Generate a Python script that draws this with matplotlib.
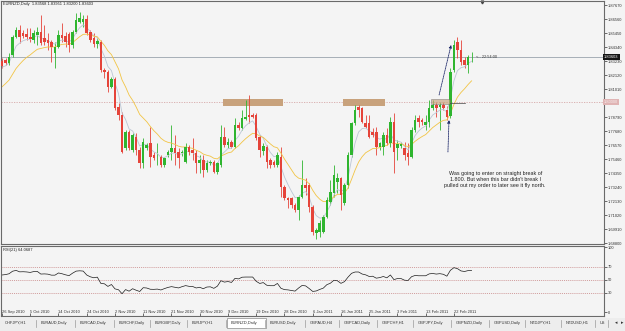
import numpy as np
import matplotlib
matplotlib.use("Agg")
import matplotlib.pyplot as plt
from matplotlib.patches import Rectangle

plt.rcParams['font.family'] = ['Liberation Sans', 'DejaVu Sans']

# EURNZD daily candles
opens = [1.8326, 1.8334, 1.8310, 1.8374, 1.8517, 1.8572, 1.8548, 1.8540, 1.8517, 1.8493,
         1.8532, 1.8556, 1.8509, 1.8493, 1.8477, 1.8390, 1.8437, 1.8532, 1.8525, 1.8540,
         1.8453, 1.8556, 1.8636, 1.8636, 1.8659, 1.8556, 1.8509, 1.8461, 1.8477, 1.8255,
         1.8239, 1.8120, 1.8184, 1.7961, 1.7898, 1.7636, 1.7763, 1.7620, 1.7724, 1.7620,
         1.7517, 1.7636, 1.7676, 1.7581, 1.7565, 1.7565, 1.7502, 1.7581, 1.7605, 1.7636,
         1.7605, 1.7597, 1.7525, 1.7644, 1.7620, 1.7597, 1.7517, 1.7541, 1.7462, 1.7517,
         1.7525, 1.7446, 1.7502, 1.7724, 1.7660, 1.7684, 1.7644, 1.7819, 1.7795, 1.7866,
         1.7898, 1.7898, 1.7898, 1.7724, 1.7613, 1.7644, 1.7541, 1.7525, 1.7502, 1.7565,
         1.7327, 1.7240, 1.7240, 1.7184, 1.7145, 1.7248, 1.7343, 1.7343, 1.7168, 1.6962,
         1.6970, 1.6970, 1.7089, 1.7208, 1.7280, 1.7367, 1.7398, 1.7200, 1.7343, 1.7581,
         1.7835, 1.7961, 1.7954, 1.7835, 1.7835, 1.7763, 1.7763, 1.7644, 1.7644, 1.7739,
         1.7676, 1.7843, 1.7636, 1.7652, 1.7636, 1.7597, 1.7565, 1.7779, 1.7874, 1.7858,
         1.7819, 1.7843, 1.7954, 1.7977, 1.7961, 1.7977, 1.7938, 1.7890, 1.8255, 1.8477,
         1.8413, 1.8334, 1.8295, 1.83568]
highs = [1.8350, 1.8350, 1.8390, 1.8532, 1.8596, 1.8612, 1.8572, 1.8588, 1.8588, 1.8572,
         1.8596, 1.8691, 1.8612, 1.8548, 1.8493, 1.8477, 1.8572, 1.8628, 1.8556, 1.8556,
         1.8572, 1.8707, 1.8715, 1.8691, 1.8691, 1.8572, 1.8548, 1.8509, 1.8493, 1.8271,
         1.8255, 1.8199, 1.8199, 1.7993, 1.7922, 1.7779, 1.7779, 1.7755, 1.7755, 1.7644,
         1.7716, 1.7676, 1.7803, 1.7605, 1.7676, 1.7581, 1.7565, 1.7620, 1.7819, 1.7739,
         1.7636, 1.7620, 1.7676, 1.7660, 1.7716, 1.7620, 1.7581, 1.7581, 1.7541, 1.7541,
         1.7541, 1.7525, 1.7819, 1.7803, 1.7716, 1.7700, 1.7874, 1.7843, 1.7938, 1.8017,
         1.8057, 1.7914, 1.7914, 1.7739, 1.7676, 1.7660, 1.7557, 1.7541, 1.7605, 1.7644,
         1.7343, 1.7248, 1.7248, 1.7200, 1.7264, 1.7541, 1.7398, 1.7359, 1.7184, 1.7002,
         1.7065, 1.7105, 1.7248, 1.7383, 1.7502, 1.7438, 1.7406, 1.7359, 1.7605, 1.7843,
         1.7977, 1.7977, 1.7961, 1.7898, 1.7898, 1.7795, 1.7803, 1.7684, 1.7763, 1.7795,
         1.7882, 1.7914, 1.7700, 1.7684, 1.7684, 1.7676, 1.7803, 1.7898, 1.7898, 1.7874,
         1.7898, 1.8017, 1.8017, 1.8001, 1.8001, 1.8001, 1.7969, 1.8271, 1.8493, 1.8517,
         1.8493, 1.8358, 1.8374, 1.83951]
lows = [1.8271, 1.8295, 1.8295, 1.8358, 1.8509, 1.8469, 1.8509, 1.8493, 1.8477, 1.8469,
        1.8453, 1.8453, 1.8453, 1.8413, 1.8318, 1.8271, 1.8429, 1.8477, 1.8437, 1.8398,
        1.8429, 1.8548, 1.8628, 1.8596, 1.8532, 1.8477, 1.8437, 1.8429, 1.8239, 1.8191,
        1.8080, 1.8112, 1.7938, 1.7858, 1.7597, 1.7620, 1.7620, 1.7605, 1.7581, 1.7478,
        1.7478, 1.7620, 1.7486, 1.7541, 1.7502, 1.7486, 1.7486, 1.7565, 1.7541, 1.7502,
        1.7478, 1.7573, 1.7517, 1.7581, 1.7541, 1.7438, 1.7438, 1.7406, 1.7446, 1.7502,
        1.7438, 1.7430, 1.7486, 1.7644, 1.7636, 1.7636, 1.7636, 1.7779, 1.7779, 1.7858,
        1.7835, 1.7874, 1.7700, 1.7565, 1.7581, 1.7478, 1.7478, 1.7486, 1.7486, 1.7248,
        1.7224, 1.7161, 1.7161, 1.7129, 1.7065, 1.7240, 1.7264, 1.7129, 1.6946, 1.6915,
        1.6931, 1.6962, 1.7081, 1.7184, 1.7248, 1.7280, 1.7145, 1.7184, 1.7319, 1.7565,
        1.7819, 1.7882, 1.7835, 1.7795, 1.7716, 1.7724, 1.7581, 1.7620, 1.7581, 1.7660,
        1.7644, 1.7438, 1.7541, 1.7636, 1.7541, 1.7502, 1.7557, 1.7763, 1.7803, 1.7819,
        1.7779, 1.7803, 1.7938, 1.7882, 1.7779, 1.7938, 1.7858, 1.7874, 1.8239, 1.8350,
        1.8295, 1.8271, 1.8231, 1.83200]
closes = [1.8287, 1.8310, 1.8358, 1.8517, 1.8572, 1.8517, 1.8525, 1.8517, 1.8501, 1.8548,
          1.8556, 1.8469, 1.8477, 1.8469, 1.8437, 1.8437, 1.8532, 1.8509, 1.8477, 1.8453,
          1.8556, 1.8651, 1.8667, 1.8659, 1.8548, 1.8493, 1.8461, 1.8485, 1.8255, 1.8239,
          1.8120, 1.8184, 1.7954, 1.7898, 1.7605, 1.7763, 1.7636, 1.7739, 1.7620, 1.7517,
          1.7684, 1.7660, 1.7565, 1.7557, 1.7568, 1.7502, 1.7557, 1.7605, 1.7636, 1.7597,
          1.7557, 1.7605, 1.7644, 1.7605, 1.7597, 1.7517, 1.7541, 1.7462, 1.7517, 1.7525,
          1.7446, 1.7517, 1.7724, 1.7660, 1.7684, 1.7644, 1.7819, 1.7795, 1.7874, 1.7882,
          1.7882, 1.7882, 1.7716, 1.7620, 1.7652, 1.7525, 1.7502, 1.7502, 1.7581, 1.7327,
          1.7240, 1.7224, 1.7184, 1.7145, 1.7248, 1.7343, 1.7319, 1.7168, 1.6970, 1.6986,
          1.7042, 1.7089, 1.7224, 1.7287, 1.7422, 1.7398, 1.7264, 1.7343, 1.7581, 1.7835,
          1.7938, 1.7938, 1.7843, 1.7803, 1.7724, 1.7739, 1.7644, 1.7676, 1.7739, 1.7676,
          1.7843, 1.7605, 1.7668, 1.7668, 1.7581, 1.7565, 1.7779, 1.7858, 1.7843, 1.7843,
          1.7843, 1.7954, 1.7977, 1.7954, 1.7977, 1.7954, 1.7882, 1.8239, 1.8453, 1.8413,
          1.8318, 1.8295, 1.8358, 1.83603]

date_labels = ["26 Sep 2010", "5 Oct 2010", "14 Oct 2010", "24 Oct 2010", "2 Nov 2010",
               "11 Nov 2010", "21 Nov 2010", "30 Nov 2010", "9 Dec 2010", "19 Dec 2010",
               "28 Dec 2010", "6 Jan 2011", "16 Jan 2011", "25 Jan 2011", "3 Feb 2011",
               "13 Feb 2011", "22 Feb 2011"]
price_ticks = [1.68800, 1.69910, 1.71020, 1.72130, 1.73240, 1.74350, 1.75460, 1.76570,
               1.77680, 1.78790, 1.79900, 1.81010, 1.82120, 1.83230, 1.84340, 1.85450,
               1.86560, 1.87670]
rsi_ticks = [0, 30, 50, 70, 100]
rsi_levels = [30, 50, 70]
level_price = 1.80000
# moving average starting values as seen at the left edge
ma_fast_start, ma_slow_start = 1.8271, 1.8096
rsi_gain_start, rsi_loss_start = 0.0045, 0.0033

tab_names = ["CHFJPY,H1", "EURAUD,Daily", "EURCAD,Daily", "EURCHF,Daily", "EURGBP,Daily",
             "EURJPY,H1", "EURNZD,Daily", "EURUSD,Daily", "GBPAUD,H4", "GBPCAD,Daily",
             "GBPCHF,H1", "GBPJPY,Daily", "GBPNZD,Daily", "GBPUSD,Daily", "NZDJPY,H1",
             "NZDUSD,H1", "US"]
tab_x = [2, 38, 77, 116, 152, 189, 228, 267, 307, 341, 379, 415, 453, 491, 527, 563, 597]

W, H = 625, 331
BG = '#F4F4F4'


def px_box(x0, y0, x1, y1):
    return [x0 / W, 1 - y1 / H, (x1 - x0) / W, (y1 - y0) / H]


def ema(vals, n, start):
    out, prev = [], start
    for v in vals:
        prev = prev + 2.0 / (n + 1) * (v - prev)
        out.append(prev)
    return np.array(out)


o = np.array(opens); h = np.array(highs); l = np.array(lows); c = np.array(closes)
idx = np.arange(len(c))
up = c >= o
cols = np.where(up, '#2FB52F', '#E5443A')

# RSI(21), Wilder smoothing
ag, al = rsi_gain_start, rsi_loss_start
rsi = [100 - 100 / (1 + ag / al)]
for d in np.diff(c):
    ag = (ag * 20 + max(d, 0)) / 21
    al = (al * 20 + max(-d, 0)) / 21
    rsi.append(100 - 100 / (1 + ag / al))
rsi = np.array(rsi)

fig = plt.figure(figsize=(6.25, 3.31), dpi=100, facecolor=BG)
xl = (-0.28, 170.5)

# ---- main price window
ax = fig.add_axes(px_box(1, 1, 604, 244), facecolor=BG)
ax.set_xlim(*xl)
ax.set_ylim(1.6875, 1.8802)
ax.set_xticks([])
ax.yaxis.tick_right()
ax.set_yticks(price_ticks)
# the label under the 1.80000 marker is hidden in the terminal
ax.set_yticklabels(["" if abs(v - level_price) < 0.003 else f"{v:.5f}" for v in price_ticks])
ax.tick_params(axis='y', length=2, width=0.5, pad=1, labelsize=2.9, colors='#333333')
for s in ax.spines.values():
    s.set_color('#6A6A6A'); s.set_linewidth(0.8)

ax.axhline(level_price, color='#D6A8A8', lw=0.6, ls=(0, (1.5, 1.5)), zorder=1)
ax.axhline(c[-1], color='#9AA3AD', lw=0.6, zorder=1)

# resistance zones
for x0, x1 in [(62.6, 79.6), (96.6, 108.5)]:
    ax.add_patch(Rectangle((x0, 1.7972), x1 - x0, 0.0056, color='#C8A27C', lw=0, zorder=1))

ax.vlines(idx, l, h, colors=cols, lw=0.6, zorder=2)
ax.bar(idx, np.maximum(np.abs(c - o), 0.0003), bottom=np.minimum(o, c), width=0.72,
       color=cols, lw=0, zorder=3)

ax.plot(idx, ema(c, 5, ma_fast_start), color='#BCC6D4', lw=0.6, zorder=2.5)
ax.plot(idx, ema(c, 14, ma_slow_start), color='#F2C444', lw=0.6, zorder=2.5)

ax.add_patch(Rectangle((121.5, 1.7985), 5.4, 0.0040, fc='#C8A27C', ec='#555555',
                       lw=0.4, alpha=0.65, zorder=4))
ax.plot([126.9, 131.0], [1.7995, 1.7995], color='#444444', lw=0.5, zorder=4)

nav = '#1F2A6B'
ax.annotate('', xy=(127.2, 1.8453), xytext=(123.8, 1.8057),
            arrowprops=dict(arrowstyle='-|>', color=nav, lw=0.6, ls=(0, (1, 1)),
                            mutation_scale=4, shrinkA=0, shrinkB=0), zorder=5)
ax.annotate('', xy=(126.6, 1.7858), xytext=(126.3, 1.7605),
            arrowprops=dict(arrowstyle='-|>', color=nav, lw=0.6, ls=(0, (1, 1)),
                            mutation_scale=4, shrinkA=0, shrinkB=0), zorder=5)

ax.text(139.7, 1.7387, "Was going to enter on straight break of\n1.800. But when this bar didn't break I\n"
        "pulled out my order to later see it fly north.", ha='center', va='center',
        fontsize=3.9, linespacing=1.3, color='#222222')
ax.text(134.3, c[-1], "<-- 22:54:00", fontsize=2.8, va='center', color='#333333')
ax.plot([136], [1.8796], marker='v', ms=2, color='#444444', clip_on=False)

ty = ax.get_yaxis_transform()
ax.text(1.0, c[-1], f"{c[-1]:.5f}", transform=ty, ha='left', va='center', fontsize=2.9,
        color='white', clip_on=False, zorder=6,
        bbox=dict(boxstyle='square,pad=0.25', fc='#151515', ec='none'))
ax.text(1.0, level_price, f"{level_price:.5f}", transform=ty, ha='left', va='center',
        fontsize=2.9, color='#F6EDED', clip_on=False, zorder=6,
        bbox=dict(boxstyle='square,pad=0.25', fc='#E0B4B4', ec='none'))

fig.text(3 / W, 1 - 4.5 / H, "EURNZD,Daily  %.5f %.5f %.5f %.5f" % (o[-1], h[-1], l[-1], c[-1]),
         fontsize=2.9, va='center', color='#222222')

# ---- RSI window
ax2 = fig.add_axes(px_box(1, 246, 604, 316), facecolor=BG)
ax2.set_xlim(*xl)
ax2.set_ylim(-5.4, 102.3)
for lv in rsi_levels:
    ax2.axhline(lv, color='#C47C7C', lw=0.5, ls=(0, (1.5, 1.5)))
ax2.plot(idx, rsi, color='#1A1A1A', lw=0.5)
ax2.yaxis.tick_right()
ax2.set_yticks(rsi_ticks)
ax2.set_yticklabels([str(t) for t in rsi_ticks])
ax2.tick_params(axis='y', length=2, width=0.5, pad=1, labelsize=2.9, colors='#333333')
ax2.set_xticks(idx[::8][:len(date_labels)])
ax2.set_xticklabels(date_labels, ha='left')
ax2.tick_params(axis='x', direction='in', length=2, width=0.5, pad=-4.2, labelsize=2.9,
                colors='#333333')
for s in ax2.spines.values():
    s.set_color('#6A6A6A'); s.set_linewidth(0.8)
ax2.text(0.003, 0.95, "RSI(21) 64.0687", transform=ax2.transAxes, fontsize=2.9,
         va='center', color='#222222')

# ---- symbol tabs
ax3 = fig.add_axes(px_box(0, 318, 625, 331), facecolor='#EDEDED')
ax3.set_xlim(0, W)
ax3.set_ylim(13, 0)
ax3.axis('off')
ax3.add_patch(Rectangle((0, 0), W, 13, color='#EDEDED', lw=0))
edges = tab_x + [610]
for i, name in enumerate(tab_names):
    if name == "EURNZD,Daily":
        ax3.add_patch(Rectangle((edges[i] - 1, 0), edges[i + 1] - edges[i], 10,
                                fc='white', ec='#8A8A8A', lw=0.5))
    ax3.text(edges[i] + 3, 5, name, fontsize=2.9, va='center', color='#333333')
    ax3.plot([edges[i + 1] - 2] * 2, [2, 9], color='#9A9A9A', lw=0.5)
ax3.text(616, 5, '\u25c2', fontsize=3.5, va='center', ha='center', color='#333333')
ax3.text(622, 5, '\u25b8', fontsize=3.5, va='center', ha='center', color='#333333')

fig.savefig('out.png', dpi=100, facecolor=BG)
